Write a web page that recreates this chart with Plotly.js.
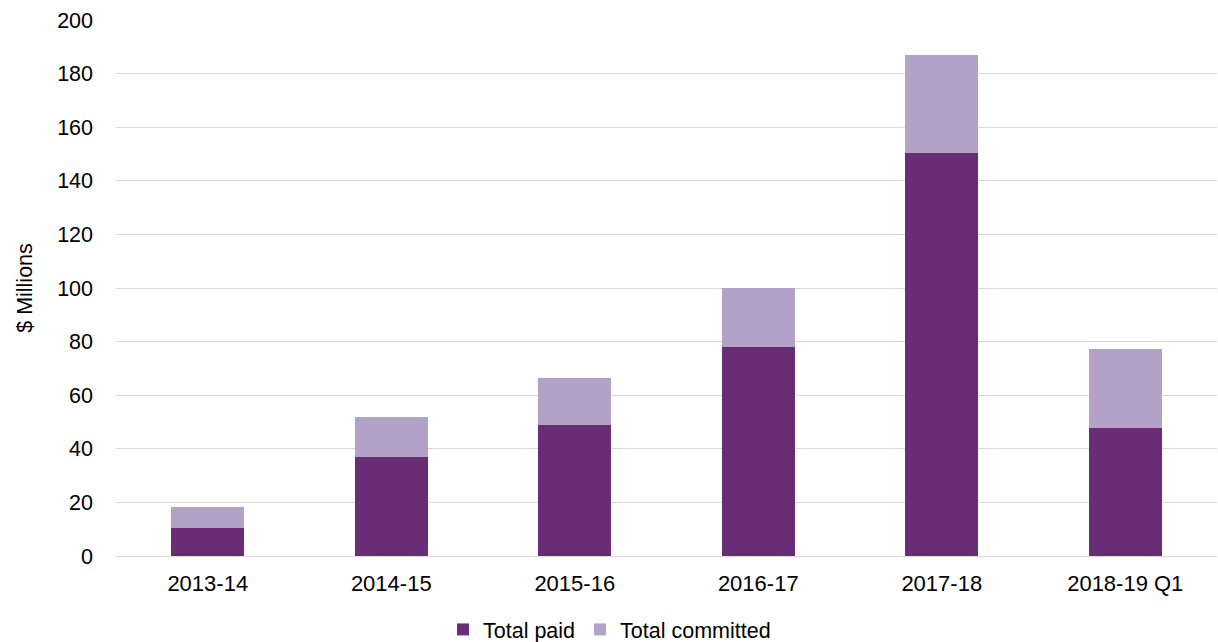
<!DOCTYPE html>
<html>
<head>
<meta charset="utf-8">
<script src="https://cdn.plot.ly/plotly-3.0.1.min.js"></script>
<style>html,body{margin:0;padding:0;background:#fff;}#chart{width:1218px;height:642px;}</style>
</head>
<body>
<div id="chart"></div>
<script>
var categories = ["2013-14", "2014-15", "2015-16", "2016-17", "2017-18", "2018-19 Q1"];
var totalPaid = [10.3, 37.0, 49.0, 78.0, 150.4, 47.9];
var totalCommitted = [8.0, 15.0, 17.4, 22.0, 36.7, 29.2];
var yTicks = [0, 20, 40, 60, 80, 100, 120, 140, 160, 180, 200];

var font = "Liberation Sans, Arial, sans-serif";
var traces = [
  {type: "bar", name: "Total paid", x: categories, y: totalPaid,
   marker: {color: "#6A2C75", line: {width: 0}}},
  {type: "bar", name: "Total committed", x: categories, y: totalCommitted,
   marker: {color: "#B3A2C7", line: {width: 0}}}
];
var layout = {
  width: 1218, height: 642,
  barmode: "stack", bargap: 0.6,
  margin: {l: 116, r: 1, t: 20, b: 86, autoexpand: false},
  paper_bgcolor: "#fff", plot_bgcolor: "#fff",
  font: {family: font, size: 22, color: "#000"},
  xaxis: {showgrid: false, ticks: "", showline: true, linecolor: "#d9d9d9", linewidth: 1,
          tickfont: {size: 22}, ticklabelstandoff: 8, automargin: false},
  yaxis: {range: [0, 200], tickvals: yTicks, ticktext: yTicks.map(String),
          showgrid: true, gridcolor: "#d9d9d9", gridwidth: 1, zeroline: false, automargin: false,
          ticks: "", ticklen: 0, tickfont: {size: 21.5}, ticklabelstandoff: 22,
          title: {text: "$ Millions", font: {size: 21.5}, standoff: 18}},
  showlegend: true,
  legend: {orientation: "h", x: 0.297, xanchor: "left", y: -0.137, yanchor: "middle",
           font: {size: 21.5}, traceorder: "normal"}
};
Plotly.newPlot("chart", traces, layout, {displayModeBar: false, staticPlot: true});
</script>
</body>
</html>
